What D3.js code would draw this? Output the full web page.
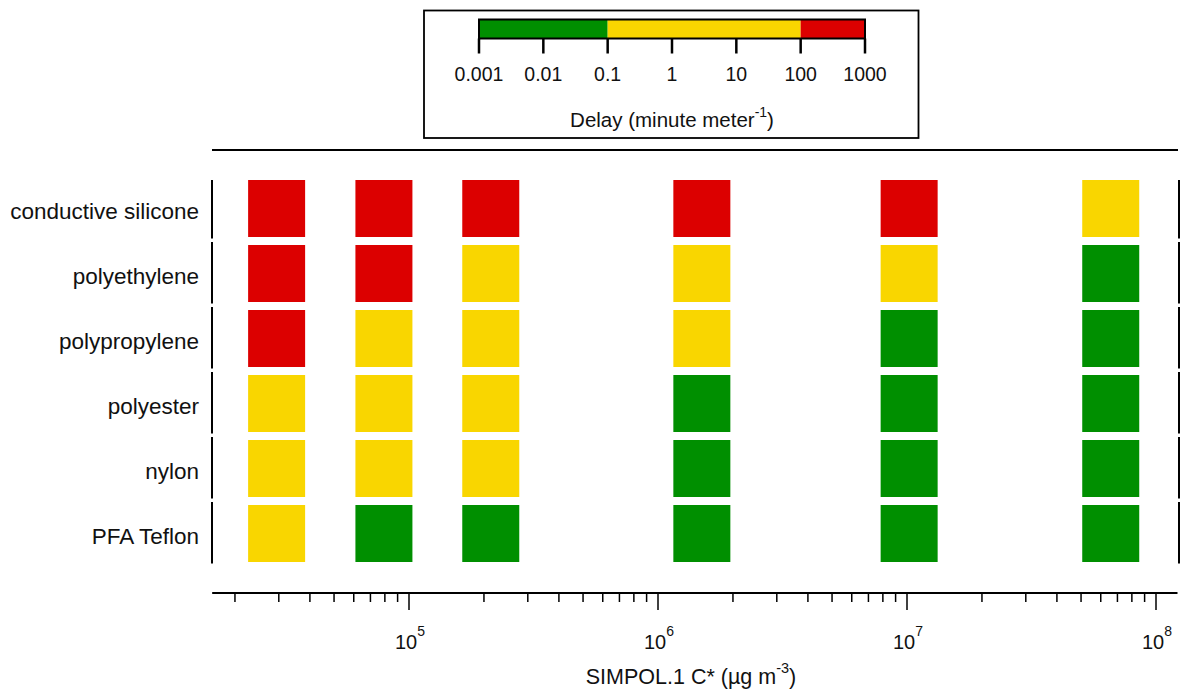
<!DOCTYPE html>
<html>
<head>
<meta charset="utf-8">
<script src="https://cdn.jsdelivr.net/npm/d3@7"></script>
<style>
  html, body { margin: 0; padding: 0; background: #fff; }
  svg { display: block; font-family: "Liberation Sans", Arial, sans-serif; }
</style>
</head>
<body>
<svg id="chart" width="1181" height="692"></svg>
<script>
// ---------------- data ----------------
const materials = ["conductive silicone", "polyethylene", "polypropylene", "polyester", "nylon", "PFA Teflon"];
const cstar = [2.94e4, 7.93e4, 2.13e5, 1.5e6, 1.02e7, 6.58e7]; // SIMPOL.1 C* (µg m-3) of each column
// delay class per material (rows) and compound (columns): "low" < 0.1, "mid" 0.1–100, "high" > 100 min m-1
const delayConductiveSilicone = ["high", "high", "high", "high", "high", "mid"];
const delayPolyethylene       = ["high", "high", "mid", "mid", "mid", "low"];
const delayPolypropylene      = ["high", "mid", "mid", "mid", "low", "low"];
const delayPolyester          = ["mid", "mid", "mid", "low", "low", "low"];
const delayNylon              = ["mid", "mid", "mid", "low", "low", "low"];
const delayPFATeflon          = ["mid", "low", "low", "low", "low", "low"];
const delayRows = [delayConductiveSilicone, delayPolyethylene, delayPolypropylene, delayPolyester, delayNylon, delayPFATeflon];
const xMajorTicks = [1e5, 1e6, 1e7, 1e8];
const xMajorExponents = ["5", "6", "7", "8"];
const xLimits = [1.62e4, 1.22e8];
const legendTicks = [0.001, 0.01, 0.1, 1, 10, 100, 1000];
const legendTickLabels = ["0.001", "0.01", "0.1", "1", "10", "100", "1000"];
const legendBands = [[0.001, 0.1, "low"], [0.1, 100, "mid"], [100, 1000, "high"]];

const colors = { low: "#008f00", mid: "#f9d600", high: "#dc0000" };

const svg = d3.select("#chart");

// ---------------- legend ----------------
svg.append("rect").attr("x", 424).attr("y", 10.5).attr("width", 494.5).attr("height", 127.5)
  .attr("fill", "#fff").attr("stroke", "#000").attr("stroke-width", 1.8);

const lx = d3.scaleLog().domain([0.001, 1000]).range([479, 865]);
const lg = svg.append("g");
lg.selectAll("rect.band").data(legendBands).join("rect")
  .attr("x", d => lx(d[0])).attr("y", 19.5)
  .attr("width", d => lx(d[1]) - lx(d[0])).attr("height", 19)
  .attr("fill", d => colors[d[2]]);
lg.append("rect").attr("x", lx(0.001)).attr("y", 19.5).attr("width", lx(1000) - lx(0.001)).attr("height", 19)
  .attr("fill", "none").attr("stroke", "#000").attr("stroke-width", 2);
lg.selectAll("line.tk").data(legendTicks).join("line")
  .attr("x1", d => lx(d)).attr("x2", d => lx(d)).attr("y1", 38.5).attr("y2", 53.5)
  .attr("stroke", "#000").attr("stroke-width", 2.5);
lg.selectAll("text.tl").data(legendTicks).join("text")
  .attr("x", d => lx(d)).attr("y", 81).attr("text-anchor", "middle")
  .attr("font-size", 19.5).attr("fill", "#111")
  .text((d, i) => legendTickLabels[i]);
const dl = lg.append("text").attr("x", 672).attr("y", 126.5).attr("text-anchor", "middle")
  .attr("font-size", 20.5).attr("fill", "#111");
dl.append("tspan").attr("font-size", 20.5).text("Delay (minute meter");
dl.append("tspan").attr("font-size", 14).attr("dy", -10).text("-1");
dl.append("tspan").attr("font-size", 20.5).attr("dy", 10).text(")");

// top separator line
svg.append("line").attr("x1", 212).attr("x2", 1178).attr("y1", 150).attr("y2", 150)
  .attr("stroke", "#000").attr("stroke-width", 2);

// ---------------- main plot ----------------
const x = d3.scaleLog().domain([1e5, 1e8]).range([409, 1156]);
const y = d3.scaleBand().domain(materials).range([176, 566]);
const sq = 57;

const cells = [];
materials.forEach((m, i) => delayRows[i].forEach((c, j) => cells.push({ m, cs: cstar[j], c })));
svg.append("g").selectAll("rect").data(cells).join("rect")
  .attr("x", d => x(d.cs) - sq / 2)
  .attr("y", d => y(d.m) + (y.bandwidth() - sq) / 2)
  .attr("width", sq).attr("height", sq)
  .attr("fill", d => colors[d.c]);

// left / right segmented axes
[212, 1179].forEach(ax => {
  svg.append("g").selectAll("line").data(materials).join("line")
    .attr("x1", ax).attr("x2", ax)
    .attr("y1", (d, i) => i === 0 ? y(d) + (y.bandwidth() - sq) / 2 : y(d) + 1)
    .attr("y2", d => y(d) + y.bandwidth() - 2.5)
    .attr("stroke", "#000").attr("stroke-width", 2);
});

// y labels
svg.append("g").selectAll("text").data(materials).join("text")
  .attr("x", 199).attr("y", d => y(d) + y.bandwidth() / 2 + 10.5)
  .attr("text-anchor", "end").attr("font-size", 22.5).attr("fill", "#111")
  .text(d => d);

// x axis
const axY = 593;
svg.append("line").attr("x1", x(xLimits[0])).attr("x2", x(xLimits[1])).attr("y1", axY).attr("y2", axY)
  .attr("stroke", "#000").attr("stroke-width", 2);
const minor = [];
for (let e = 4; e <= 8; e++) for (let k = 2; k <= 9; k++) {
  const v = k * Math.pow(10, e);
  if (v >= xLimits[0] && v <= xLimits[1]) minor.push(v);
}
svg.append("g").selectAll("line").data(minor).join("line")
  .attr("x1", d => x(d)).attr("x2", d => x(d)).attr("y1", axY).attr("y2", axY + 9)
  .attr("stroke", "#000").attr("stroke-width", 1.5);
svg.append("g").selectAll("line").data(xMajorTicks).join("line")
  .attr("x1", d => x(d)).attr("x2", d => x(d)).attr("y1", axY).attr("y2", axY + 17)
  .attr("stroke", "#000").attr("stroke-width", 1.5);
const xl = svg.append("g").selectAll("text").data(xMajorTicks).join("text")
  .attr("x", d => x(d) + 1).attr("y", 649).attr("text-anchor", "middle")
  .attr("font-size", 20).attr("fill", "#111");
xl.append("tspan").attr("font-size", 20).text("10");
xl.append("tspan").attr("font-size", 14).attr("dy", -13).text((d, i) => xMajorExponents[i]);

const xt = svg.append("text").attr("x", 691).attr("y", 684).attr("text-anchor", "middle")
  .attr("font-size", 21.5).attr("fill", "#111");
xt.append("tspan").attr("font-size", 21.5).text("SIMPOL.1 C* (µg m");
xt.append("tspan").attr("font-size", 14.5).attr("dy", -11).text("-3");
xt.append("tspan").attr("font-size", 21.5).attr("dy", 11).text(")");
</script>
</body>
</html>
